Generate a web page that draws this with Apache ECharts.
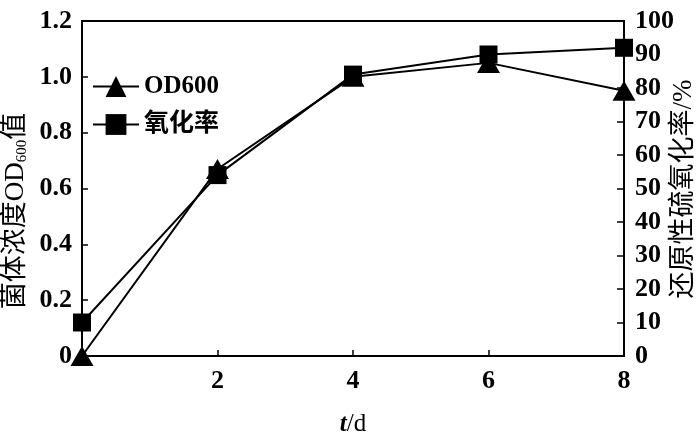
<!DOCTYPE html>
<html>
<head>
<meta charset="utf-8">
<script src="https://cdn.jsdelivr.net/npm/echarts@6/dist/echarts.min.js"></script>
<style>
  html, body { margin: 0; padding: 0; background: #fff; }
  #chart { width: 700px; height: 445px; }
</style>
</head>
<body>
<div id="chart"></div>
<script>
// 数据
const days = [0, 2, 4, 6, 8]
const od600 = [0, 0.67, 1.0, 1.05, 0.95]
const oxidationRate = [10, 54, 84, 90, 92]
const seriesNames = ['OD600', '氧化率']

const serif = "'Liberation Serif', 'Noto Sans CJK SC', serif"

const chart = echarts.init(document.getElementById('chart'))

const tickFont = { color: '#000', fontSize: 26, fontWeight: 'bold', fontFamily: serif }

const option = {
  animation: false,
  grid: {
    left: 82,
    right: 76,
    top: 21,
    bottom: 89,
    show: true,
    borderColor: '#000',
    borderWidth: 2,
  },
  legend: {
    orient: 'vertical',
    left: 87,
    top: 69,
    itemWidth: 46,
    itemHeight: 26,
    itemGap: 13,
    data: seriesNames,
    textStyle: { color: '#000', fontSize: 25, fontWeight: 'bold', fontFamily: serif },
  },
  xAxis: {
    type: 'value',
    min: 0,
    max: 8,
    interval: 2,
    name: '{i|t}/d',
    nameLocation: 'middle',
    nameGap: 56,
    nameTextStyle: {
      color: '#000',
      fontSize: 25,
      fontFamily: serif,
      rich: { i: { fontStyle: 'italic', fontWeight: 'bold', fontSize: 25, fontFamily: serif } },
    },
    axisLine: { lineStyle: { color: '#000', width: 2 } },
    axisTick: { inside: true, length: 6, lineStyle: { color: '#000', width: 1.5 } },
    axisLabel: {
      ...tickFont,
      margin: 12,
      formatter: v => (v === 0 ? '' : String(v)),
    },
    splitLine: { show: false },
  },
  yAxis: [
    {
      type: 'value',
      min: 0,
      max: 1.2,
      interval: 0.2,
      axisLine: { show: true, lineStyle: { color: '#000', width: 2 } },
      axisTick: { inside: true, length: 6, lineStyle: { color: '#000', width: 1.5 } },
      axisLabel: {
        ...tickFont,
        margin: 10,
        formatter: v => (v === 0 ? '0' : v.toFixed(1)),
      },
      splitLine: { show: false },
    },
    {
      type: 'value',
      min: 0,
      max: 100,
      interval: 10,
      position: 'right',
      axisLine: { show: true, lineStyle: { color: '#000', width: 2 } },
      axisTick: { inside: true, length: 7, lineStyle: { color: '#000', width: 1.5 } },
      axisLabel: { ...tickFont, margin: 11 },
      splitLine: { show: false },
    },
  ],
  graphic: [
    {
      type: 'text',
      x: 16,
      y: 211,
      rotation: Math.PI / 2,
      style: {
        text: '菌体浓度OD{sub|600}值',
        fill: '#000',
        fontSize: 27,
        fontFamily: serif,
        align: 'center',
        verticalAlign: 'middle',
        rich: { sub: { fontSize: 15, fontFamily: serif, verticalAlign: 'bottom', padding: [12, 0, 0, 0] } },
      },
    },
    {
      type: 'text',
      x: 684,
      y: 189,
      rotation: Math.PI / 2,
      style: {
        text: '还原性硫氧化率/%',
        fill: '#000',
        fontSize: 27,
        fontFamily: serif,
        align: 'center',
        verticalAlign: 'middle',
      },
    },
  ],
  series: [
    {
      name: seriesNames[0],
      type: 'line',
      yAxisIndex: 0,
      data: days.map((d, i) => [d, od600[i]]),
      symbol: 'triangle',
      symbolSize: [23, 20],
      lineStyle: { color: '#000', width: 2 },
      itemStyle: { color: '#000' },
      z: 3,
    },
    {
      name: seriesNames[1],
      type: 'line',
      yAxisIndex: 1,
      data: days.map((d, i) => [d, oxidationRate[i]]),
      symbol: 'rect',
      symbolSize: 18,
      lineStyle: { color: '#000', width: 2 },
      itemStyle: { color: '#000' },
      z: 4,
    },
  ],
}

chart.setOption(option)
</script>
</body>
</html>
